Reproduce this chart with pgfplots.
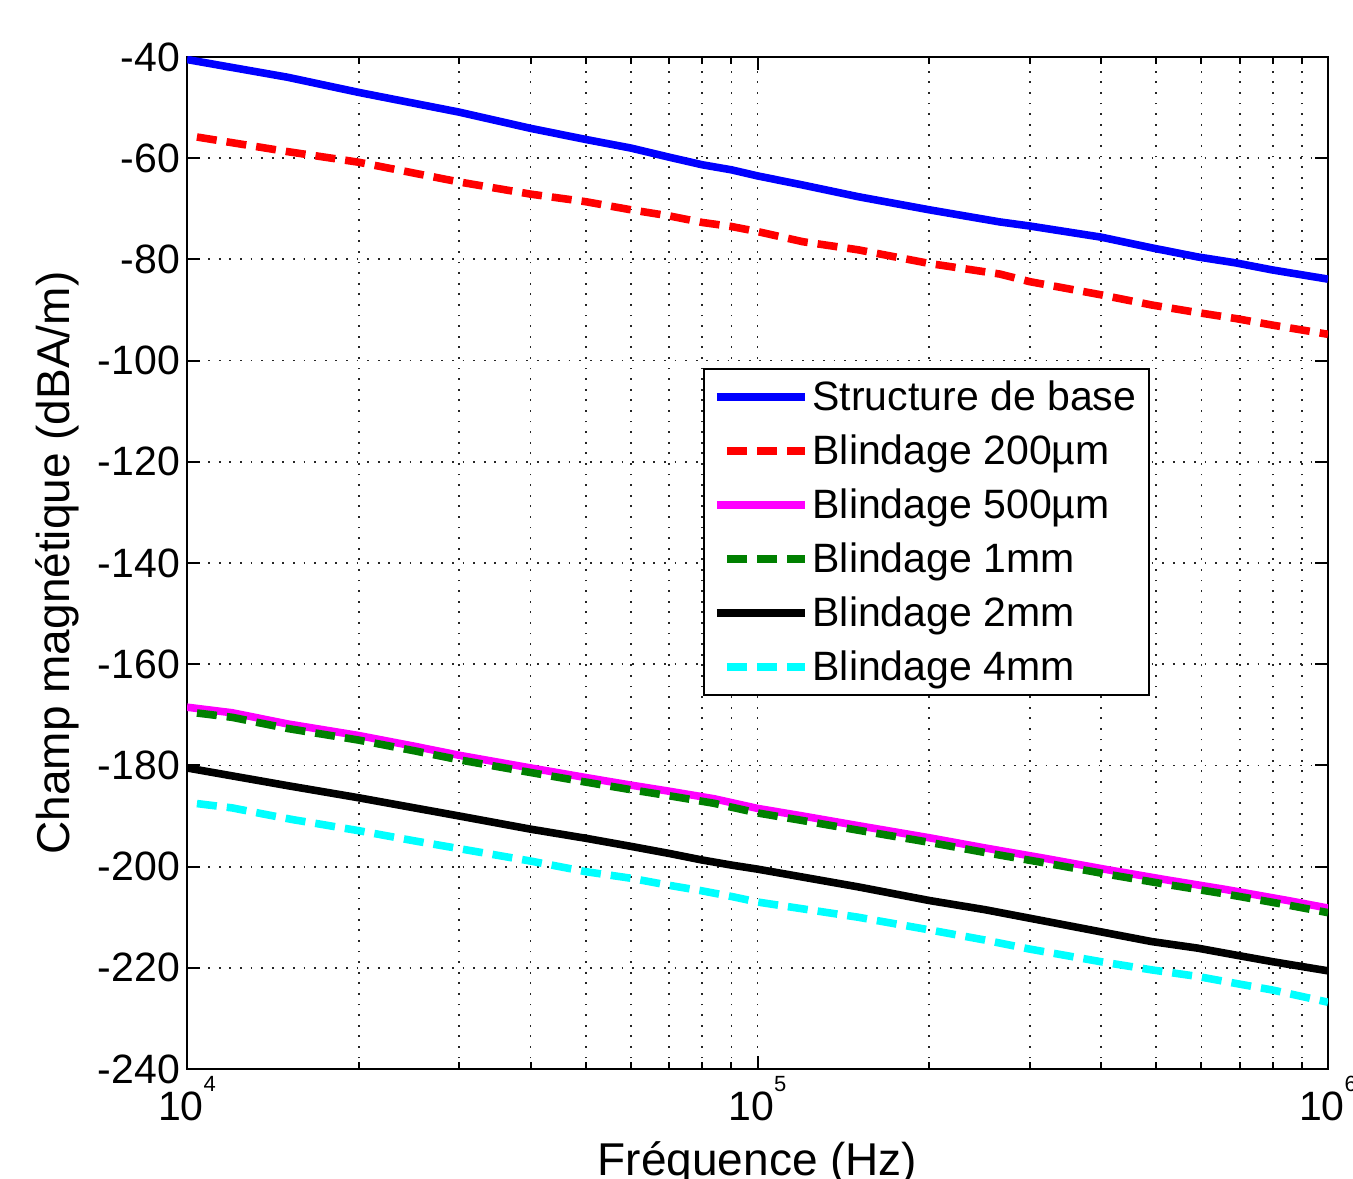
\documentclass[border=0pt]{standalone}
\usepackage{fontspec}
\setmainfont{Liberation Sans}
\usepackage{pgfplots}
\pgfplotsset{compat=1.18}
\definecolor{mgreen}{rgb}{0,0.5,0}
\definecolor{mmag}{rgb}{1,0,1}
\definecolor{mcyan}{rgb}{0,1,1}
\definecolor{mblue}{rgb}{0,0,1}
\definecolor{mred}{rgb}{1,0,0}
\newcommand\ex[1]{10\raisebox{0.72em}{\fontsize{11}{11}\selectfont #1}}
\begin{document}
\begin{tikzpicture}
\begin{axis}[
 name=ax,
 xmode=log,
 scale only axis,
 width=570.5pt, height=506pt,
 xmin=1e4, xmax=1e6, ymin=-240, ymax=-40,
 xtick={1e4,1e5,1e6},
 minor xtick={2e4,3e4,4e4,5e4,6e4,7e4,8e4,9e4,2e5,3e5,4e5,5e5,6e5,7e5,8e5,9e5},
 xticklabels={\ex{4},\ex{5},\ex{6}},
 ytick={-240,-220,...,-40},
 /pgf/number format/assume math mode=true,
 tick align=inside,
 tick pos=both,
 major tick length=6.5pt, minor tick length=3.5pt,
 every tick/.style={black, line width=1pt},
 axis line style={black, line width=1pt},
 xmajorgrids, xminorgrids, ymajorgrids,
 grid style={black!85, line width=0.9pt, dash pattern=on 0.9pt off 4.4pt},
 minor grid style={black!85, line width=0.9pt, dash pattern=on 0.9pt off 4.4pt},
 tick label style={font=\fontsize{20.5}{24}\selectfont},
 xlabel={Fréquence (Hz)},
 ylabel={Champ magnétique (dBA/m)},
 xlabel style={font=\fontsize{23}{27}\selectfont, at={(axis description cs:0.5,-0.1057)}, anchor=base},
 ylabel style={font=\fontsize{23}{27}\selectfont, at={(axis description cs:-0.1139,0.5)}, anchor=center},
 legend style={at={(axis description cs:0.4522,0.6927)}, anchor=north west,
   draw=black, line width=1pt, fill=white,
   font=\fontsize{20.5}{24}\selectfont,
   inner xsep=4.5pt, inner ysep=2pt, row sep=3pt,
   nodes={inner sep=2pt, text height=17pt, text depth=3pt}},
 legend cell align=left,
 legend image code/.code={\draw[#1] (0pt,0pt) -- (44pt,0pt);},
]
\addplot[mblue, line width=3.8pt] coordinates {(1e4,-40.5)(1.5e4,-44.0)(2e4,-47.0)(3e4,-50.9)(4e4,-54.1)(5e4,-56.3)(6e4,-58.0)(7e4,-59.8)(8e4,-61.3)(9e4,-62.3)(1e5,-63.5)(1.2e5,-65.3)(1.5e5,-67.6)(2e5,-70.2)(2.66e5,-72.6)(3e5,-73.4)(4e5,-75.6)(4.9e5,-77.7)(5.9e5,-79.5)(6.9e5,-80.7)(8e5,-82.1)(1e6,-83.9)};
\addlegendentry{Structure de base}
\addplot[mred, line width=3.8pt, dash pattern=on 10pt off 5pt, dash phase=10pt] coordinates {(1e4,-55.5)(1.5e4,-58.7)(2e4,-60.8)(3e4,-64.7)(4e4,-67.1)(5e4,-68.6)(6e4,-70.2)(7e4,-71.4)(8e4,-72.7)(9e4,-73.5)(1e5,-74.5)(1.2e5,-76.5)(1.5e5,-78.1)(2e5,-80.8)(2.66e5,-82.9)(3e5,-84.4)(4e5,-87.0)(4.9e5,-89.0)(5.9e5,-90.5)(6.9e5,-91.7)(8e5,-93.0)(1e6,-94.8)};
\addlegendentry{Blindage 200µm}
\addplot[mmag, line width=3.8pt] coordinates {(1e4,-168.5)(1.2e4,-169.6)(1.5e4,-171.8)(2e4,-174.1)(2.5e4,-176.2)(3e4,-178.0)(4e4,-180.5)(5e4,-182.4)(6e4,-183.9)(7e4,-185.1)(8.4e4,-186.6)(1e5,-188.5)(1.2e5,-190.0)(1.5e5,-191.9)(2e5,-194.3)(2.5e5,-196.3)(3.2e5,-198.4)(4.1e5,-200.6)(5.2e5,-202.6)(6.6e5,-204.5)(8.5e5,-206.7)(1e6,-208.2)};
\addlegendentry{Blindage 500µm}
\addplot[mgreen, line width=3.8pt, dash pattern=on 10pt off 5pt, dash phase=10pt] coordinates {(1e4,-169.4)(1.2e4,-170.5)(1.5e4,-172.7)(2e4,-175.0)(2.5e4,-177.1)(3e4,-178.9)(4e4,-181.4)(5e4,-183.3)(6e4,-184.8)(7e4,-186.0)(8.4e4,-187.5)(1e5,-189.4)(1.2e5,-190.9)(1.5e5,-192.8)(2e5,-195.2)(2.5e5,-197.2)(3.2e5,-199.3)(4.1e5,-201.5)(5.2e5,-203.5)(6.6e5,-205.4)(8.5e5,-207.6)(1e6,-209.1)};
\addlegendentry{Blindage 1mm}
\addplot[black, line width=3.8pt] coordinates {(1e4,-180.5)(1.5e4,-184.0)(2e4,-186.4)(3e4,-190.0)(4e4,-192.6)(5e4,-194.4)(6e4,-196.0)(7e4,-197.4)(8e4,-198.7)(9e4,-199.7)(1e5,-200.5)(1.5e5,-204.0)(2e5,-206.7)(2.5e5,-208.5)(3e5,-210.2)(4e5,-212.9)(4.9e5,-214.8)(5.9e5,-216.1)(6.9e5,-217.5)(8e5,-218.8)(1e6,-220.6)};
\addlegendentry{Blindage 2mm}
\addplot[mcyan, line width=3.8pt, dash pattern=on 10pt off 5pt, dash phase=10pt] coordinates {(1e4,-187.3)(1.2e4,-188.4)(1.36e4,-189.6)(1.53e4,-190.7)(1.73e4,-191.7)(2e4,-192.9)(2.5e4,-194.9)(3.2e4,-197.0)(4e4,-198.9)(5e4,-201.0)(6e4,-202.3)(7e4,-203.7)(8e4,-204.8)(9e4,-205.9)(1e5,-207.0)(1.5e5,-210.0)(2e5,-212.5)(2.5e5,-214.5)(3e5,-216.3)(4e5,-218.8)(4.9e5,-220.4)(5.9e5,-221.7)(6.9e5,-223.1)(8e5,-224.4)(1e6,-226.8)};
\addlegendentry{Blindage 4mm}
\end{axis}
\pgfresetboundingbox
\path[use as bounding box] ([shift={(-93.5pt,-54.5pt)}]ax.south west) rectangle ([shift={(12.5pt,28.5pt)}]ax.north east);
\end{tikzpicture}
\end{document}
